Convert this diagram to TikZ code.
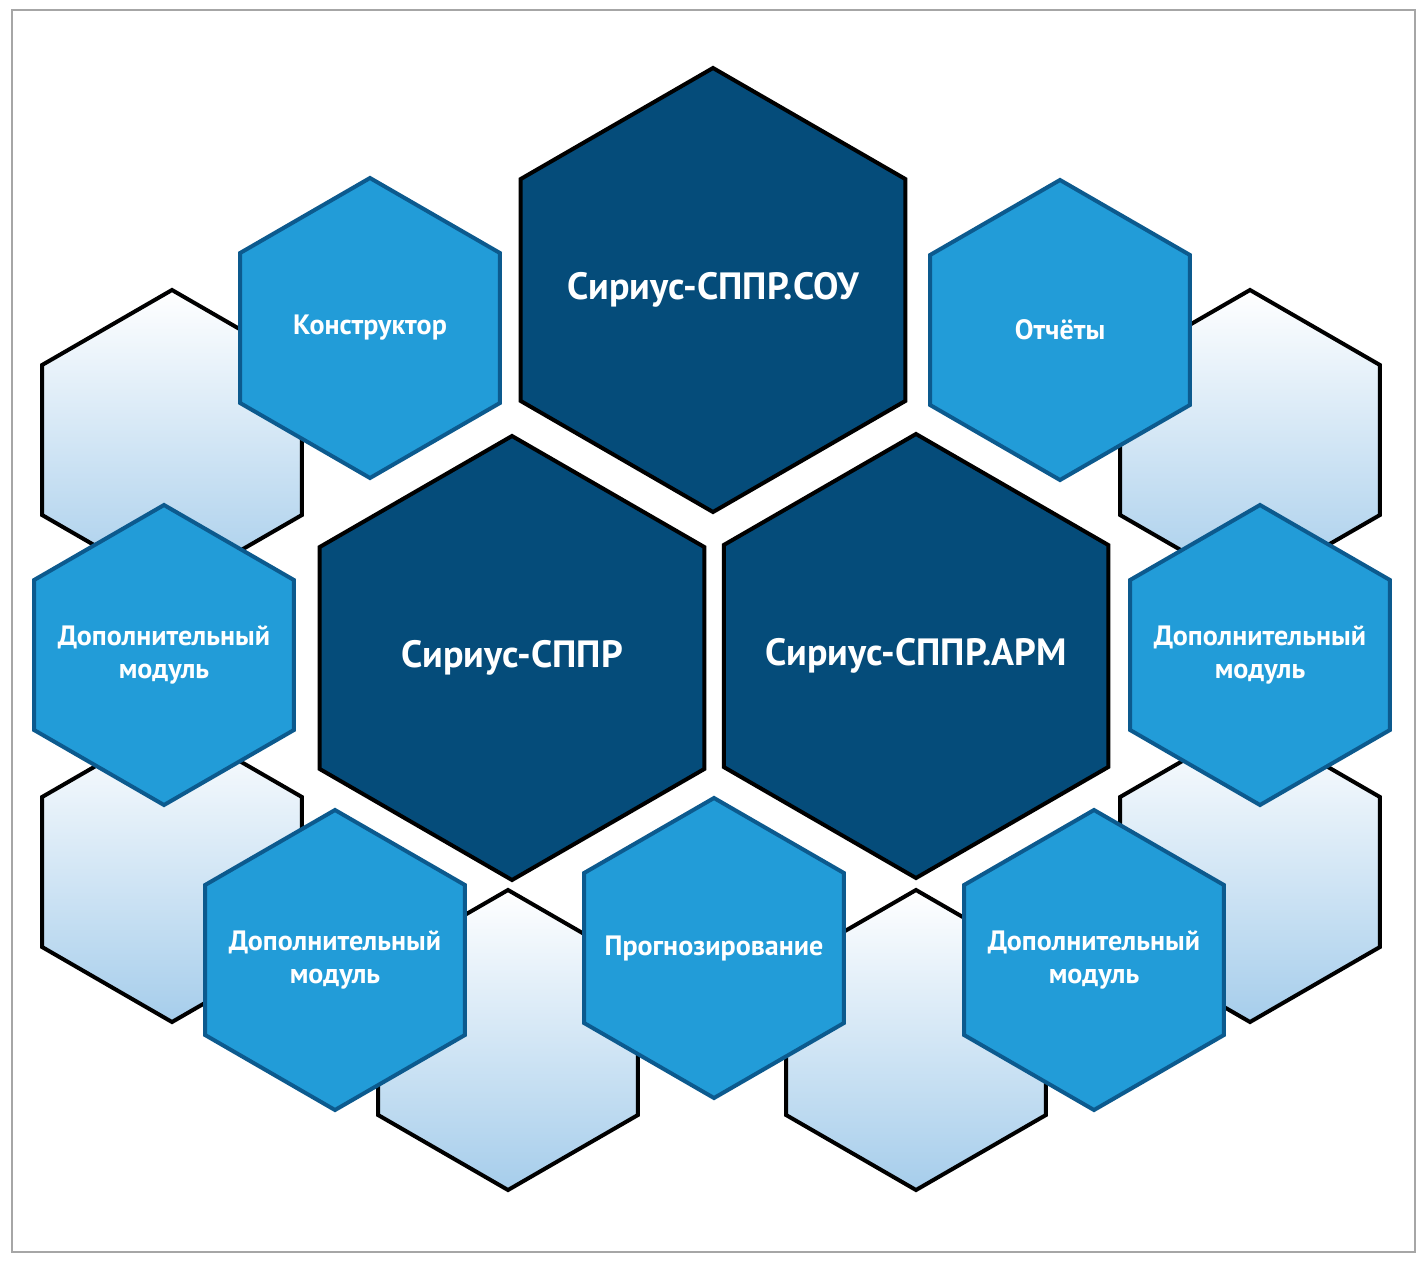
\documentclass[tikz,border=0pt]{standalone}
\usepackage{fontspec}
\setmainfont{PT Sans}
\usetikzlibrary{shapes.geometric}
\definecolor{darkhex}{HTML}{054C7A}
\definecolor{midhex}{HTML}{229CD8}
\definecolor{midedge}{HTML}{0C5A8E}
\definecolor{lighthex}{HTML}{A6CDEB}
\tikzset{
  hex/.style={regular polygon, regular polygon sides=6, shape border rotate=30, inner sep=0pt, outer sep=0pt},
  light/.style={hex, draw=black, line width=4pt, minimum size=300pt, top color=white, bottom color=lighthex},
  mid/.style={hex, draw=midedge, line width=4pt, minimum size=300pt, fill=midhex,
    label={[text=white, font=\bfseries\fontsize{28}{33}\selectfont, align=center]center:#1}},
  big/.style={hex, draw=black, line width=4pt, minimum size=444pt, fill=darkhex,
    label={[text=white, font=\bfseries\fontsize{38}{44}\selectfont]center:#1}}
}
\begin{document}
\begin{tikzpicture}[x=1pt,y=-1pt]

\useasboundingbox (0,0) rectangle (1423,1261);
\draw[gray!70, line width=1.5pt] (12,10) rectangle (1415,1252);

% background hexagons

\node[light] (l0) at (172, 440) {};
\node[light] (l1) at (172, 872) {};
\node[light] (l2) at (508, 1040) {};
\node[light] (l3) at (916, 1040) {};
\node[light] (l4) at (1250, 440) {};
\node[light] (l5) at (1250, 872) {};

% module hexagons

\node[mid={Конструктор}] (konstr) at (370, 328) {};
\node[mid={Отчёты}] (otch) at (1060, 330) {};
\node[mid={Дополнительный\\модуль}] (dop0) at (164, 655) {};
\node[mid={Дополнительный\\модуль}] (dop1) at (1260, 655) {};
\node[mid={Дополнительный\\модуль}] (dop2) at (335, 960) {};
\node[mid={Прогнозирование}] (progn) at (714, 948) {};
\node[mid={Дополнительный\\модуль}] (dop3) at (1094, 960) {};

% main hexagons

\node[big={Сириус-СППР.СОУ}] (sou) at (713, 290) {};
\node[big={Сириус-СППР}] (sppr) at (512, 658) {};
\node[big={Сириус-СППР.АРМ}] (arm) at (916, 656) {};

\end{tikzpicture}
\end{document}
